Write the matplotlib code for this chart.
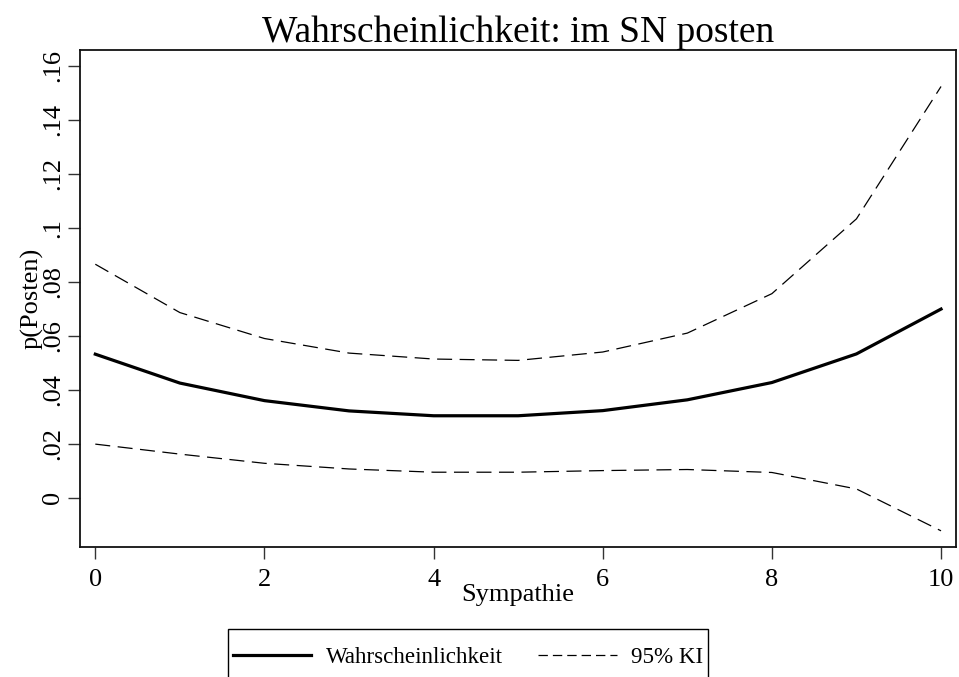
import matplotlib.pyplot as plt
from matplotlib.lines import Line2D
from matplotlib.patches import Rectangle

plt.rcParams['font.family'] = ['Liberation Serif', 'DejaVu Serif']

# Sympathie 0..10
sympathie = [0, 1, 2, 3, 4, 5, 6, 7, 8, 9, 10]
prob = [0.0532, 0.0425, 0.0360, 0.0322, 0.0304, 0.0304, 0.0323, 0.0363, 0.0427, 0.0533, 0.0699]
ki_upper = [0.0865, 0.0686, 0.0590, 0.0536, 0.0514, 0.0509, 0.0540, 0.0610, 0.0756, 0.1033, 0.1523]
ki_lower = [0.0199, 0.0162, 0.0128, 0.0107, 0.0095, 0.0095, 0.0101, 0.0105, 0.0094, 0.0033, -0.0122]

x_ticks = [0, 2, 4, 6, 8, 10]
y_ticks = [0, 0.02, 0.04, 0.06, 0.08, 0.10, 0.12, 0.14, 0.16]
y_labels = ['0', '.02', '.04', '.06', '.08', '.1', '.12', '.14', '.16']

W, H = 959, 677
fig = plt.figure(figsize=(W / 100, H / 100), dpi=100)
ax = fig.add_axes([80 / W, 1 - 547.3 / H, 876 / W, 497 / H])

dash = (0, (12, 6))
ax.plot(sympathie, prob, color='black', lw=2.3, solid_joinstyle='round')
ax.plot(sympathie, ki_upper, color='black', lw=0.9, linestyle=dash)
ax.plot(sympathie, ki_lower, color='black', lw=0.9, linestyle=dash)

ax.set_xlim(-0.181, 10.177)
ax.set_ylim(-0.0183, 0.1657)
ax.set_xticks(x_ticks)
ax.set_xticklabels([str(t) for t in x_ticks])
ax.set_yticks(y_ticks)
ax.set_yticklabels(y_labels, rotation=90, va='center')
ax.tick_params(axis='both', direction='out', length=8.5, width=1.0, labelsize=19, color='#333333')
ax.tick_params(axis='x', pad=7)
ax.tick_params(axis='y', pad=3)
for s in ax.spines.values():
    s.set_linewidth(1.3)
    s.set_color('#111111')

ax.set_xlabel('Sympathie', fontsize=19, labelpad=-5)
ax.set_ylabel('p(Posten)', fontsize=19, labelpad=-1)
ax.set_title('Wahrscheinlichkeit: im SN posten', fontsize=27, pad=6)

# legend box (bottom runs off the image like in the original)
fig.patches.append(Rectangle((228 / W, 1 - 700 / H), 480 / W, 71 / H,
                             transform=fig.transFigure, fill=False,
                             edgecolor='black', lw=1.0))
handles = [Line2D([], [], color='black', lw=2.3),
           Line2D([], [], color='black', lw=0.9, linestyle=(0, (7.5, 4)))]
fig.legend(handles, ['Wahrscheinlichkeit', '95% KI'], ncol=2,
           loc='center left', bbox_to_anchor=(233 / W, 1 - 657 / H),
           frameon=False, fontsize=16.6, handlelength=3.4,
           handletextpad=0.62, columnspacing=1.55, borderpad=0,
           borderaxespad=0)

fig.savefig('out.png', dpi=100)
